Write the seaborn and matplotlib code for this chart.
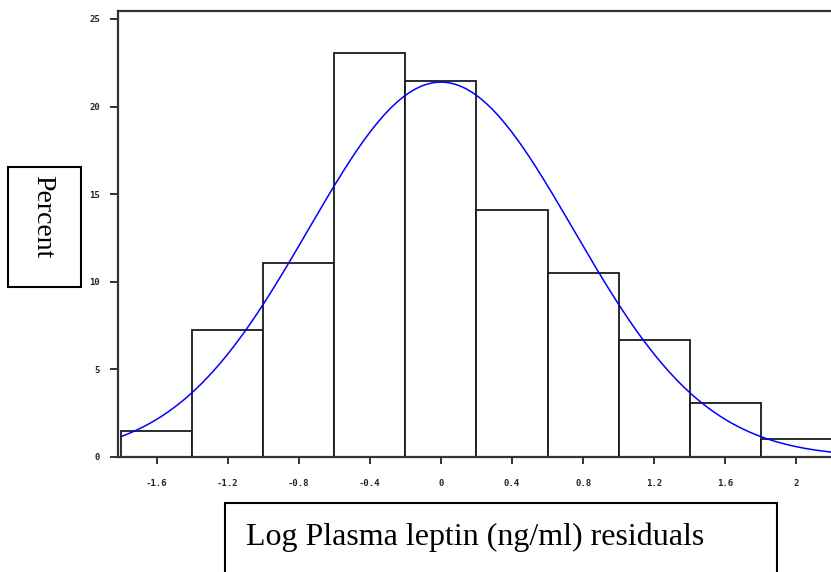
import numpy as np
import matplotlib
matplotlib.use("Agg")
import matplotlib.pyplot as plt
import seaborn as sns
from matplotlib.patches import Rectangle

# ---- data ----
bin_edges = [-1.8, -1.4, -1.0, -0.6, -0.2, 0.2, 0.6, 1.0, 1.4, 1.8, 2.2]
bin_centers = [-1.6, -1.2, -0.8, -0.4, 0.0, 0.4, 0.8, 1.2, 1.6, 2.0]
percent = [1.5, 7.25, 11.05, 23.05, 21.45, 14.1, 10.5, 6.7, 3.1, 1.0]
x_ticks = [-1.6, -1.2, -0.8, -0.4, 0, 0.4, 0.8, 1.2, 1.6, 2]
x_tick_labels = ["-1.6", "-1.2", "-0.8", "-0.4", "0", "0.4", "0.8", "1.2", "1.6", "2"]
y_ticks = [0, 5, 10, 15, 20, 25]
y_tick_labels = ["0", "5", "10", "15", "20", "25"]
# fitted normal curve parameters (percent scale, bin width 0.4)
normal_mean = 0.0
normal_sd = 0.746
bin_width = 0.4

sns.set_theme(style="ticks")
plt.rcParams["font.family"] = ["DejaVu Sans"]

W, H = 831, 572
fig = plt.figure(figsize=(W / 100, H / 100), dpi=100)
fig.patch.set_facecolor("white")
ax = fig.add_axes([118 / W, 1 - 457 / H, 1 - 118 / W, (457 - 11) / H])

sns.histplot(x=bin_centers, weights=percent, bins=bin_edges, stat="count",
             color="white", edgecolor="#1a1a1a", linewidth=1.3, alpha=1.0, ax=ax)

xs = np.linspace(-1.8, 2.25, 500)
ys = 100 * bin_width / (normal_sd * np.sqrt(2 * np.pi)) * np.exp(-0.5 * ((xs - normal_mean) / normal_sd) ** 2)
sns.lineplot(x=xs, y=ys, color="blue", linewidth=1.1, ax=ax)

ax.set_xlim(-1.817, 2.195)
ax.set_ylim(0, 25.45)
tick_font = dict(fontsize=6.5, fontweight="bold", color="#222222", family=["DejaVu Sans Mono"])
ax.set_xticks(x_ticks)
ax.set_xticklabels(x_tick_labels, **tick_font)
ax.set_yticks(y_ticks)
ax.set_yticklabels(y_tick_labels, **tick_font)
ax.tick_params(axis="x", length=5, width=1.4, color="#333333", pad=10.5)
ax.tick_params(axis="y", length=6, width=1.4, color="#333333", pad=7)
ax.set_xlabel("")
ax.set_ylabel("")
ax.set_facecolor("white")
for s in ["left", "bottom", "top"]:
    ax.spines[s].set_linewidth(1.6)
    ax.spines[s].set_color("#333333")
ax.spines["right"].set_visible(False)

# y label box
fig.add_artist(Rectangle((8 / W, 1 - 287 / H), 73 / W, 120 / H, transform=fig.transFigure,
                         fill=False, linewidth=1.5, edgecolor="black"))
fig.text(43 / W, 1 - 217 / H, "Percent", rotation=-90, ha="center", va="center",
         fontsize=20, family=["Liberation Serif"], color="black")

# x label box
fig.add_artist(Rectangle((225 / W, -0.05), (777 - 225) / W, (1 - 503 / H) + 0.05,
                         transform=fig.transFigure, fill=False, linewidth=1.5,
                         edgecolor="black", clip_on=False))
fig.text(246 / W, 1 - 545 / H, "Log Plasma leptin (ng/ml) residuals", ha="left",
         va="baseline", fontsize=23, family=["Liberation Serif"], color="black")

fig.savefig("out.png", dpi=100, facecolor="white")
